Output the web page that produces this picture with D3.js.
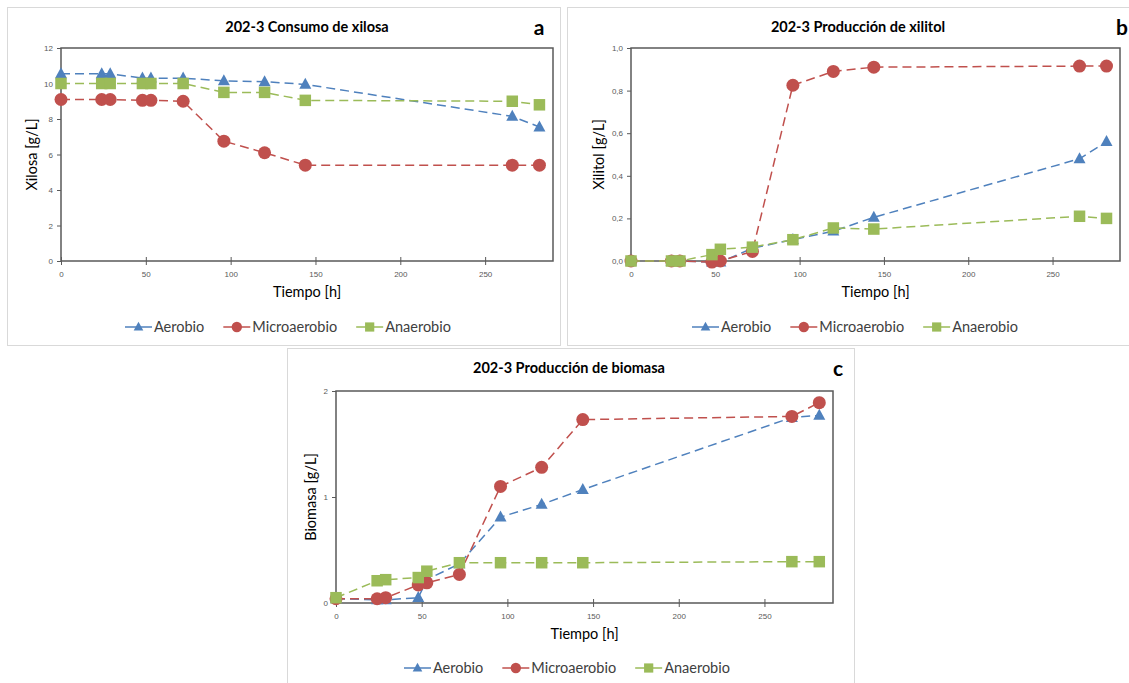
<!DOCTYPE html>
<html lang="es">
<head>
<meta charset="utf-8">
<title>202-3 cinéticas</title>
<script src="https://d3js.org/d3.v7.min.js"></script>
<style>
  body { margin: 0; background: #fff; font-family: "Lato", "Open Sans", sans-serif; }
  svg { display: block; }
  .tick text { fill: #595959; font-size: 8px; }
  .axis path, .axis line { stroke: #595959; }
</style>
</head>
<body>
<script>
// tiempos de muestreo [h]
var tiempo = [0, 24, 29, 48, 53, 72, 96, 120, 144, 266, 282];
var series = ["Aerobio", "Microaerobio", "Anaerobio"];

// a) xilosa [g/L]
var xilosaAerobio      = [10.55, 10.55, 10.55, 10.3, 10.3, 10.3, 10.15, 10.1, 9.95, 8.15, 7.55];
var xilosaMicroaerobio = [9.1, 9.1, 9.1, 9.05, 9.05, 9.0, 6.75, 6.1, 5.4, 5.4, 5.4];
var xilosaAnaerobio    = [10.0, 10.0, 10.0, 10.0, 10.0, 10.0, 9.5, 9.5, 9.05, 9.0, 8.8];

// b) xilitol [g/L]
var xilitolAerobio      = [0, 0, 0, -0.005, -0.005, 0.06, 0.1, 0.14, 0.205, 0.48, 0.56];
var xilitolMicroaerobio = [0, 0, 0, -0.005, 0, 0.045, 0.825, 0.89, 0.91, 0.915, 0.915];
var xilitolAnaerobio    = [0, 0, 0, 0.03, 0.055, 0.065, 0.1, 0.155, 0.15, 0.21, 0.2];

// c) biomasa [g/L]
var biomasaAerobio      = [0.04, 0.03, 0.03, 0.05, 0.22, 0.37, 0.81, 0.93, 1.07, 1.75, 1.77];
var biomasaMicroaerobio = [0.04, 0.04, 0.05, 0.17, 0.19, 0.27, 1.10, 1.28, 1.73, 1.76, 1.89];
var biomasaAnaerobio    = [0.05, 0.21, 0.22, 0.24, 0.30, 0.38, 0.38, 0.38, 0.38, 0.39, 0.39];
var biomasaErrorMicro   = [0, 0, 0, 0, 0, 0, 0, 0, 0.04, 0.04, 0.05];

var xTicks = [0, 50, 100, 150, 200, 250];
var xilosaTicks = [0, 2, 4, 6, 8, 10, 12];
var xilitolTicks = [0, 0.2, 0.4, 0.6, 0.8, 1.0];
var biomasaTicks = [0, 1, 2];

var colores = {Aerobio: "#4f81bd", Microaerobio: "#c0504d", Anaerobio: "#9bbb59"};

var svg = d3.select("body").append("svg")
  .attr("width", 1129)
  .attr("height", 683);

function drawPanel(p) {
  // marco del gráfico
  svg.append("rect")
    .attr("x", p.box[0] + 0.5).attr("y", p.box[1] + 0.5)
    .attr("width", p.box[2]).attr("height", p.box[3])
    .attr("fill", "#fff").attr("stroke", "#d9d9d9");

  var x = d3.scaleLinear().domain([0, 290]).range([p.plot[0], p.plot[2]]);
  var y = d3.scaleLinear().domain([0, p.yMax]).range([p.plot[3], p.plot[1]]);

  // ejes con marcas que cruzan la línea
  var gx = svg.append("g").attr("class", "axis")
    .attr("transform", "translate(0," + p.plot[3] + ")")
    .call(d3.axisBottom(x).tickValues(xTicks).tickSize(4).tickPadding(6).tickFormat(d3.format("d")));
  gx.selectAll(".tick line").attr("y1", -4);
  gx.select(".domain").remove();

  var gy = svg.append("g").attr("class", "axis")
    .attr("transform", "translate(" + p.plot[0] + ",0)")
    .call(d3.axisLeft(y).tickValues(p.yTicks).tickSize(4).tickPadding(4).tickFormat(p.yFormat));
  gy.selectAll(".tick line").attr("x1", 0).attr("x2", -4);
  gy.select(".domain").remove();

  svg.append("rect")
    .attr("x", p.plot[0]).attr("y", p.plot[1])
    .attr("width", p.plot[2] - p.plot[0]).attr("height", p.plot[3] - p.plot[1])
    .attr("fill", "none").attr("stroke", "#595959").attr("stroke-width", 1.5);

  // título y letra
  svg.append("text").attr("x", p.titleX).attr("y", p.box[1] + 25)
    .attr("text-anchor", "middle").attr("font-weight", "bold").attr("font-size", 14.5)
    .attr("fill", "#000").text(p.title);
  svg.append("text").attr("x", p.letterX).attr("y", p.box[1] + 28)
    .attr("text-anchor", "middle").attr("font-weight", "bold").attr("font-size", 21)
    .attr("fill", "#000").text(p.letter);

  // rótulos de ejes
  svg.append("text").attr("x", (p.plot[0] + p.plot[2]) / 2).attr("y", p.plot[3] + 36)
    .attr("text-anchor", "middle").attr("font-size", 14.5).attr("fill", "#000").text("Tiempo [h]");
  svg.append("text")
    .attr("transform", "translate(" + p.yLabelX + "," + (p.plot[1] + p.plot[3]) / 2 + ") rotate(-90)")
    .attr("text-anchor", "middle").attr("font-size", 14.5).attr("fill", "#000").text(p.yLabel);

  var line = d3.line().x(function(d) { return x(d[0]); }).y(function(d) { return y(d[1]); });

  // barras de error (pequeñas)
  if (p.err) {
    p.err.forEach(function(e, i) {
      if (!e) return;
      var v = p.values[1][i];
      svg.append("line").attr("x1", x(tiempo[i])).attr("x2", x(tiempo[i]))
        .attr("y1", y(v - e)).attr("y2", y(v + e)).attr("stroke", "#7f7f7f");
      svg.append("line").attr("x1", x(tiempo[i]) - 3).attr("x2", x(tiempo[i]) + 3)
        .attr("y1", y(v + e)).attr("y2", y(v + e)).attr("stroke", "#7f7f7f");
    });
  }

  // orden de dibujo: aerobio, microaerobio, anaerobio
  series.forEach(function(s, k) {
    var pts = tiempo.map(function(t, i) { return [t, p.values[k][i]]; });
    svg.append("path").datum(pts)
      .attr("d", line).attr("fill", "none")
      .attr("stroke", colores[s]).attr("stroke-width", 1.5)
      .attr("stroke-dasharray", "9,5");
    pts.forEach(function(d) { marker(s, x(d[0]), y(d[1])); });
  });

  // leyenda
  var lx = p.legendX;
  series.forEach(function(s) {
    svg.append("line").attr("x1", lx).attr("x2", lx + 27)
      .attr("y1", p.legendY).attr("y2", p.legendY)
      .attr("stroke", colores[s]).attr("stroke-width", 1.5);
    marker(s, lx + 13.5, p.legendY, 0.8);
    var t = svg.append("text").attr("x", lx + 29).attr("y", p.legendY + 5)
      .attr("font-size", 14.5).attr("fill", "#404040").text(s);
    lx += 29 + t.node().getComputedTextLength() + 19;
  });
}

function marker(s, cx, cy, k) {
  k = k || 1;
  if (s === "Aerobio") {
    var h = 11 * k, w = 12 * k;
    svg.append("path")
      .attr("d", "M" + cx + "," + (cy - h * 0.6) + "L" + (cx + w / 2) + "," + (cy + h * 0.4) + "L" + (cx - w / 2) + "," + (cy + h * 0.4) + "Z")
      .attr("fill", colores[s]);
  } else if (s === "Microaerobio") {
    svg.append("circle").attr("cx", cx).attr("cy", cy).attr("r", 6.5 * k).attr("fill", colores[s]);
  } else {
    var a = 11.5 * k;
    svg.append("rect").attr("x", cx - a / 2).attr("y", cy - a / 2)
      .attr("width", a).attr("height", a).attr("fill", colores[s]);
  }
}

drawPanel({
  box: [7, 7, 553, 338], plot: [61, 48, 553, 261],
  yMax: 12, yTicks: xilosaTicks, yFormat: d3.format("d"),
  title: "202-3 Consumo de xilosa", titleX: 307, letter: "a", letterX: 539,
  yLabel: "Xilosa [g/L]", yLabelX: 37,
  values: [xilosaAerobio, xilosaMicroaerobio, xilosaAnaerobio],
  legendX: 125, legendY: 327
});

drawPanel({
  box: [567, 7, 575, 338], plot: [631, 48, 1120, 261],
  yMax: 1.0, yTicks: xilitolTicks, yFormat: function(d) { return d3.format(".1f")(d).replace(".", ","); },
  title: "202-3 Producción de xilitol", titleX: 858, letter: "b", letterX: 1122,
  yLabel: "Xilitol [g/L]", yLabelX: 604,
  values: [xilitolAerobio, xilitolMicroaerobio, xilitolAnaerobio],
  legendX: 692, legendY: 327
});

drawPanel({
  box: [287, 348, 567, 345], plot: [336, 391, 833, 603],
  yMax: 2, yTicks: biomasaTicks, yFormat: d3.format("d"),
  title: "202-3 Producción de biomasa", titleX: 569, letter: "c", letterX: 838,
  yLabel: "Biomasa [g/L]", yLabelX: 316,
  values: [biomasaAerobio, biomasaMicroaerobio, biomasaAnaerobio],
  err: biomasaErrorMicro,
  legendX: 404, legendY: 668
});
</script>
</body>
</html>
